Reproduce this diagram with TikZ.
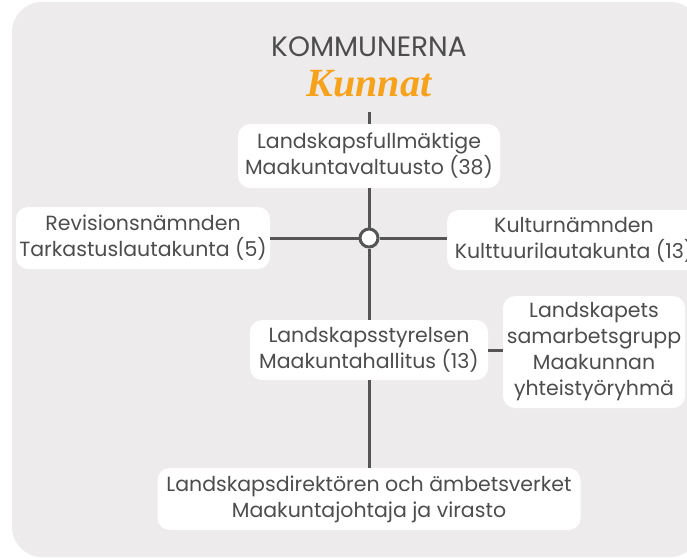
\documentclass[tikz,border=0pt]{standalone}
\usepackage{fontspec}
\setmainfont{Poppins}
\newfontfamily\kunnatfont{Liberation Serif}
\definecolor{bgc}{HTML}{EDEBEC}
\definecolor{linec}{HTML}{555555}
\definecolor{txtc}{HTML}{4D4D4D}
\definecolor{orangec}{HTML}{F7A21B}
\begin{document}
\begin{tikzpicture}[x=1pt,y=-1pt,
  orgbox/.style={fill=white, rounded corners=12pt, align=center, text=txtc,
    font=\fontsize{20.5}{26}\selectfont, inner sep=0pt},
  conn/.style={draw=linec, line width=3pt}]
\useasboundingbox (0,0) rectangle (687,558);
\fill[bgc, rounded corners=30pt] (12,2) rectangle (700,557);
\node[text=txtc, font=\fontsize{28}{32}\selectfont] (kom) at (369,47) {KOMMUNERNA};
\node[text=orangec, font=\kunnatfont\bfseries\itshape\fontsize{40}{44}\selectfont] (kun) at (369,84) {Kunnat};
\coordinate (top) at (369,112);
\node[orgbox, minimum width=262pt, minimum height=64pt] (full) at (369,156) {Landskapsfullmäktige\\Maakuntavaltuusto (38)};
\node[orgbox, minimum width=254pt, minimum height=62pt] (rev) at (143,238) {Revisionsnämnden\\Tarkastuslautakunta (5)};
\node[orgbox, minimum width=254pt, minimum height=60pt] (kul) at (574,240) {Kulturnämnden\\Kulttuurilautakunta (13)};
\node[orgbox, minimum width=238pt, minimum height=60pt] (sty) at (369,350) {Landskapsstyrelsen\\Maakuntahallitus (13)};
\node[orgbox, minimum width=182pt, minimum height=112pt] (sam) at (594,352) {Landskapets\\samarbetsgrupp\\Maakunnan\\yhteistyöryhmä};
\node[orgbox, minimum width=423pt, minimum height=62pt] (dir) at (369,499) {Landskapsdirektören och ämbetsverket\\Maakuntajohtaja ja virasto};
\node[circle, draw=linec, line width=3pt, fill=white, minimum size=18pt, inner sep=0pt] (hub) at (369,238) {};
\draw[conn] (top) -- (full.north);
\draw[conn] (full.south) -- (hub.north);
\draw[conn] (rev.east |- hub) -- (hub.west);
\draw[conn] (hub.east) -- (kul.west |- hub);
\draw[conn] (hub.south) -- (sty.north);
\draw[conn] (sty.east) -- (sty.east -| sam.west);
\draw[conn] (sty.south) -- (dir.north);
\end{tikzpicture}
\end{document}
